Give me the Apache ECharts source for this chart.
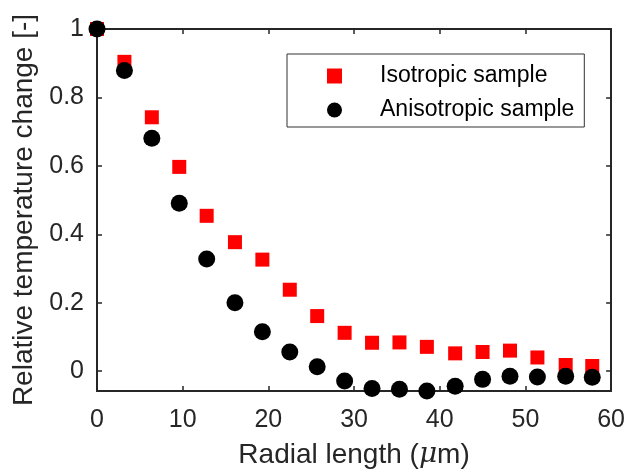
<!DOCTYPE html>
<html>
<head>
<meta charset="utf-8">
<script src="https://cdn.jsdelivr.net/npm/echarts@6/dist/echarts.min.js"></script>
<style>html,body{margin:0;padding:0;background:#fff;}#c{width:628px;height:474px;}</style>
</head>
<body>
<div id="c"></div>
<script>
var radialLength = [0, 3.2, 6.4, 9.6, 12.8, 16.1, 19.3, 22.5, 25.7, 28.9, 32.1, 35.3, 38.5, 41.8, 45.0, 48.2, 51.4, 54.7, 57.8];
var isotropic = [1.0, 0.904, 0.742, 0.597, 0.454, 0.377, 0.326, 0.238, 0.161, 0.112, 0.083, 0.084, 0.071, 0.052, 0.056, 0.060, 0.040, 0.018, 0.015];
var anisotropic = [1.0, 0.879, 0.681, 0.491, 0.328, 0.200, 0.115, 0.056, 0.013, -0.029, -0.051, -0.053, -0.058, -0.044, -0.024, -0.015, -0.017, -0.015, -0.018];
var yTicks = [0, 0.2, 0.4, 0.6, 0.8, 1];
var seriesNames = ['Isotropic sample', 'Anisotropic sample'];

function pairs(xs, ys) { return xs.map(function (x, i) { return [x, ys[i]]; }); }

var AX = '#262626';
var FONT = 'Liberation Sans, Arial, Helvetica, sans-serif';
var chart = echarts.init(document.getElementById('c'), null, { renderer: 'canvas' });
var axisLine = { show: true, onZero: false, lineStyle: { color: AX, width: 2 } };
var tick = { show: true, inside: true, length: 5, lineStyle: { color: AX, width: 1.5 } };

chart.setOption({
  backgroundColor: '#fff',
  animation: false,
  grid: { left: 97, top: 29, width: 515, height: 364, containLabel: false },
  legend: {
    left: 287, top: 54, orient: 'vertical',
    padding: [10, 10, 5, 40], itemGap: 10,
    itemWidth: 15, itemHeight: 15,
    borderColor: '#333', borderWidth: 1, backgroundColor: '#fff',
    textStyle: { fontFamily: FONT, fontSize: 23, color: '#000', lineHeight: 24, padding: [0, 0, 0, 33] },
    data: [{ name: seriesNames[0], icon: 'rect' }, { name: seriesNames[1], icon: 'circle' }]
  },
  xAxis: [{
    type: 'value', min: 0, max: 60, interval: 10, position: 'bottom',
    axisLine: axisLine, axisTick: tick, splitLine: { show: false },
    axisLabel: { margin: 17, color: AX, fontFamily: FONT, fontSize: 25 },
    name: '{n|Radial length (}{i|μ}{n|m)}', nameLocation: 'middle', nameGap: 50,
    nameTextStyle: { rich: {
      n: { fontFamily: FONT, fontSize: 28, color: AX },
      i: { fontFamily: 'DejaVu Serif, Times New Roman, serif', fontStyle: 'italic', fontSize: 28, color: AX }
    } }
  }, {
    type: 'value', min: 0, max: 60, interval: 10, position: 'top',
    axisLine: axisLine, axisTick: tick, splitLine: { show: false }, axisLabel: { show: false }
  }],
  yAxis: [{
    type: 'value', min: -0.058, max: 1, position: 'left',
    axisLine: axisLine,
    axisTick: Object.assign({}, tick, { customValues: yTicks }),
    splitLine: { show: false },
    axisLabel: { customValues: yTicks, margin: 13, color: AX, fontFamily: FONT, fontSize: 25,
      formatter: function (v) { return String(Math.round(v * 10) / 10); } },
    name: 'Relative temperature change [-]', nameLocation: 'middle', nameGap: 58,
    nameTextStyle: { fontFamily: FONT, fontSize: 28, color: AX }
  }, {
    type: 'value', min: -0.058, max: 1, position: 'right',
    axisLine: axisLine,
    axisTick: Object.assign({}, tick, { customValues: yTicks }),
    splitLine: { show: false }, axisLabel: { show: false }
  }],
  series: [{
    name: seriesNames[0], type: 'scatter', symbol: 'rect', symbolSize: 14,
    clip: false, itemStyle: { color: '#ff0000', opacity: 1 },
    data: pairs(radialLength, isotropic)
  }, {
    name: seriesNames[1], type: 'scatter', symbol: 'circle', symbolSize: 17,
    clip: false, itemStyle: { color: '#000000', opacity: 1 },
    data: pairs(radialLength, anisotropic)
  }]
});
</script>
</body>
</html>
